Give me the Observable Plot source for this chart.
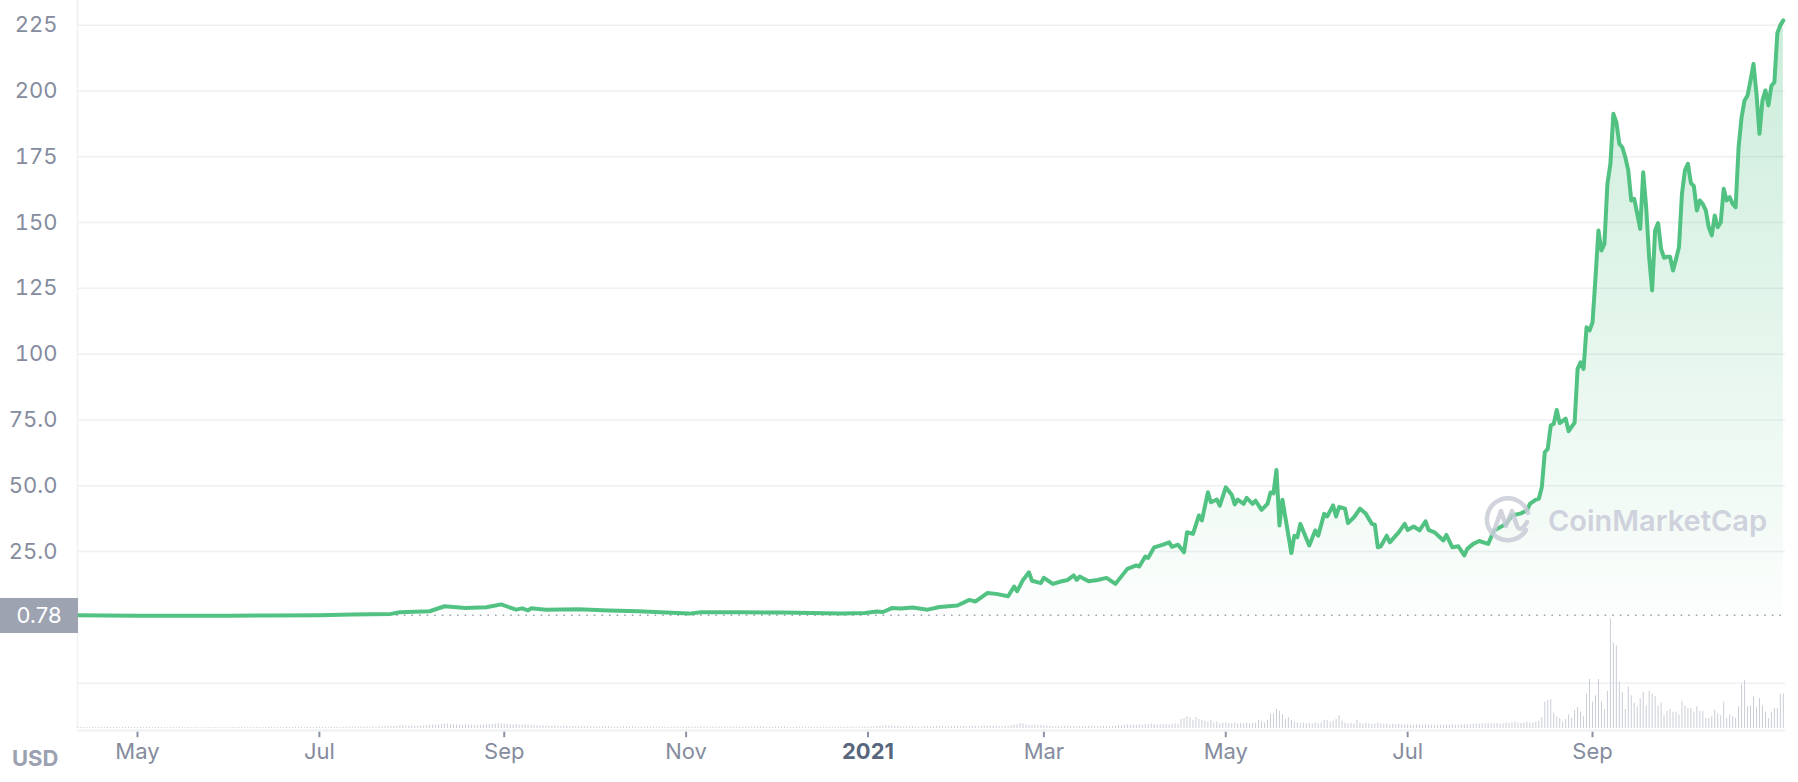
<!DOCTYPE html>
<html><head><meta charset="utf-8">
<script src="https://cdn.jsdelivr.net/npm/d3@7"></script>
<script src="https://cdn.jsdelivr.net/npm/@observablehq/plot@0.6"></script>
<style>
body{margin:0;background:#fff;}
#wrap{position:relative;width:1798px;height:782px;font-family:Inter, sans-serif;overflow:hidden;}
#wrap svg{position:absolute;left:0;top:0;}
.startLabel{position:absolute;left:0;top:598px;width:78px;height:35px;background:#9ea3b1;color:#fff;font-size:22px;line-height:35px;text-align:center;font-family:Inter,sans-serif;}
.usd{position:absolute;left:12px;top:744px;font-weight:700;font-size:22px;line-height:28px;color:#9ba1b0;font-family:Inter,sans-serif;}
</style></head>
<body><div id="wrap"></div>
<script>
// ---- price series (USD) ----
const priceDates = [
"2020-04-11","2020-04-20","2020-05-01","2020-05-15","2020-06-01","2020-06-15","2020-07-01","2020-07-12","2020-07-25","2020-07-28",
"2020-08-07","2020-08-12","2020-08-19","2020-08-26","2020-08-31","2020-09-05","2020-09-07","2020-09-09","2020-09-10","2020-09-15",
"2020-09-26","2020-10-06","2020-10-16","2020-11-02","2020-11-06","2020-11-19","2020-12-03","2020-12-23","2020-12-31",
"2021-01-04","2021-01-06","2021-01-09","2021-01-12","2021-01-16","2021-01-21","2021-01-25","2021-01-31",
"2021-02-04","2021-02-06","2021-02-10","2021-02-13","2021-02-17","2021-02-19","2021-02-20","2021-02-22","2021-02-24","2021-02-25","2021-02-28",
"2021-03-01","2021-03-04","2021-03-07","2021-03-09","2021-03-11","2021-03-12","2021-03-13","2021-03-16","2021-03-19","2021-03-22","2021-03-25","2021-03-29",
"2021-04-01","2021-04-02","2021-04-04","2021-04-05","2021-04-07","2021-04-10","2021-04-12","2021-04-13","2021-04-15","2021-04-17","2021-04-18","2021-04-20","2021-04-22","2021-04-23","2021-04-25","2021-04-26","2021-04-28","2021-04-29",
"2021-05-01","2021-05-03","2021-05-04","2021-05-05","2021-05-07","2021-05-08","2021-05-10","2021-05-11","2021-05-13","2021-05-15","2021-05-16","2021-05-17","2021-05-18","2021-05-19","2021-05-20","2021-05-23","2021-05-24","2021-05-25","2021-05-26","2021-05-29","2021-05-31",
"2021-06-01","2021-06-03","2021-06-04","2021-06-06","2021-06-07","2021-06-08","2021-06-10","2021-06-11","2021-06-13","2021-06-15","2021-06-17","2021-06-19","2021-06-20","2021-06-21","2021-06-22","2021-06-24","2021-06-25","2021-06-28","2021-06-30",
"2021-07-01","2021-07-03","2021-07-05","2021-07-07","2021-07-08","2021-07-10","2021-07-13","2021-07-14","2021-07-16","2021-07-18","2021-07-20","2021-07-21","2021-07-23","2021-07-25","2021-07-28","2021-07-30",
"2021-08-01","2021-08-03","2021-08-05","2021-08-08","2021-08-10","2021-08-11","2021-08-13","2021-08-14","2021-08-15","2021-08-16","2021-08-17","2021-08-18","2021-08-19","2021-08-20","2021-08-21","2021-08-23","2021-08-24","2021-08-26","2021-08-27","2021-08-28","2021-08-29","2021-08-30","2021-08-31",
"2021-09-01","2021-09-02","2021-09-03","2021-09-04","2021-09-05","2021-09-06","2021-09-07","2021-09-08","2021-09-09","2021-09-10","2021-09-11","2021-09-12","2021-09-13","2021-09-14","2021-09-15","2021-09-16","2021-09-17","2021-09-18","2021-09-19","2021-09-20","2021-09-21","2021-09-22","2021-09-23","2021-09-24","2021-09-25","2021-09-26","2021-09-27","2021-09-28","2021-09-29","2021-09-30",
"2021-10-01","2021-10-02","2021-10-03","2021-10-04","2021-10-05","2021-10-06","2021-10-07","2021-10-08","2021-10-09","2021-10-10","2021-10-11","2021-10-12","2021-10-13","2021-10-14","2021-10-15","2021-10-16","2021-10-17","2021-10-18","2021-10-19","2021-10-20","2021-10-21","2021-10-22","2021-10-23","2021-10-24","2021-10-25","2021-10-26","2021-10-27","2021-10-28","2021-10-29","2021-10-30","2021-10-31",
"2021-11-01","2021-11-02","2021-11-03","2021-11-04"
];
const priceValues = [
0.78,0.66,0.62,0.60,0.62,0.72,0.80,1.10,1.30,1.90,
2.30,4.20,3.50,3.80,4.90,2.90,3.40,2.60,3.40,2.90,
3.10,2.60,2.30,1.40,1.90,1.90,1.80,1.40,1.60,
2.2,2.0,3.5,3.3,3.7,2.9,3.9,4.5,
6.6,6.0,9.2,8.9,8.0,11.7,9.9,14.2,17.1,13.9,13.0,
15.0,12.7,13.7,14.2,15.9,14.2,15.5,13.7,14.2,15.0,12.7,18.4,
19.7,19.3,23.1,22.6,26.6,27.6,28.5,26.8,27.6,24.7,32.3,31.7,38.7,36.8,47.5,43.7,44.7,42.4,
49.4,46.6,42.9,44.7,43.1,45.4,43.1,44.3,40.8,43.1,47.4,47.1,56.0,34.9,44.7,24.4,31.0,30.4,35.5,27.3,33.0,
31.0,39.3,38.3,42.5,38.3,41.9,41.3,35.8,38.0,41.3,39.3,35.5,35.2,26.6,27.0,31.0,28.5,32.3,35.5,
33.2,34.5,33.0,36.5,33.2,32.3,29.2,31.3,26.6,27.0,23.5,26.0,27.9,29.0,27.9,33.0,
34.2,35.5,38.7,39.5,40.6,43.1,44.7,45.0,49.4,62.7,64.0,72.9,73.5,78.8,73.8,75.5,70.7,74.0,94.4,96.9,94.4,110.2,109.0,
112,129,147,139.4,141.9,164.7,172.3,191.3,188.1,179.9,178.6,174.8,169.8,158.4,159.0,153.3,147.6,169.1,155.8,136.8,124.2,147.0,149.8,140.0,136.6,137.0,137.0,131.8,136.0,140.6,
160.9,169.8,172.3,165.0,163.8,154.6,158.4,157.0,154.6,148.2,145.1,152.7,148.2,150.0,162.8,158.4,159.7,157.1,155.8,178.6,190.0,196.4,198.3,204.0,210.3,198.9,183.7,196.4,200.2,194.5,202.0,
203.3,222.0,225.0,226.8
];
const startPrice = 0.78;

// ---- daily volume (relative units) ----
const volumeStart = "2020-04-11";
const vol2020Apr = [0.10,0.12,0.11,0.10,0.10,0.12,0.11,0.10,0.10,0.11,0.12,0.10,0.10,0.11,0.10,0.10,0.12,0.11,0.10,0.10];
const vol2020May = [0.10,0.11,0.10,0.10,0.12,0.10,0.10,0.11,0.10,0.10,0.10,0.12,0.10,0.11,0.10,0.10,0.10,0.11,0.10,0.10,0.12,0.10,0.10,0.11,0.10,0.10,0.10,0.11,0.10,0.10,0.10];
const vol2020Jun = [0.10,0.11,0.10,0.10,0.12,0.10,0.11,0.10,0.10,0.12,0.11,0.10,0.10,0.11,0.12,0.10,0.10,0.11,0.10,0.12,0.10,0.10,0.11,0.10,0.12,0.10,0.11,0.10,0.10,0.12];
const vol2020Jul = [0.12,0.12,0.13,0.12,0.14,0.12,0.13,0.12,0.14,0.15,0.14,0.16,0.15,0.14,0.15,0.16,0.15,0.14,0.16,0.15,0.17,0.18,0.20,0.22,0.25,0.22,0.26,0.30,0.28,0.26,0.25];
const vol2020Aug = [0.26,0.24,0.25,0.28,0.30,0.32,0.35,0.38,0.36,0.40,0.45,0.50,0.48,0.42,0.40,0.38,0.36,0.35,0.40,0.38,0.36,0.35,0.34,0.36,0.38,0.40,0.42,0.45,0.50,0.55,0.50];
const vol2020Sep = [0.48,0.45,0.42,0.40,0.45,0.38,0.36,0.40,0.38,0.35,0.32,0.30,0.28,0.30,0.28,0.26,0.25,0.26,0.24,0.22,0.24,0.22,0.20,0.22,0.20,0.21,0.20,0.19,0.20,0.19];
const vol2020Oct = [0.18,0.18,0.17,0.18,0.19,0.18,0.17,0.16,0.17,0.16,0.15,0.16,0.15,0.16,0.15,0.14,0.15,0.14,0.15,0.14,0.15,0.14,0.14,0.15,0.14,0.14,0.13,0.14,0.14,0.13,0.14];
const vol2020Nov = [0.14,0.15,0.14,0.15,0.16,0.18,0.16,0.15,0.14,0.15,0.14,0.15,0.14,0.15,0.14,0.14,0.15,0.14,0.15,0.14,0.16,0.15,0.16,0.15,0.17,0.16,0.15,0.14,0.15,0.14];
const vol2020Dec = [0.14,0.15,0.14,0.14,0.13,0.14,0.13,0.14,0.13,0.13,0.14,0.13,0.14,0.13,0.13,0.14,0.13,0.14,0.13,0.14,0.13,0.14,0.15,0.14,0.13,0.14,0.15,0.14,0.15,0.16,0.15];
const vol2021Jan = [0.15,0.18,0.20,0.22,0.20,0.25,0.30,0.28,0.25,0.22,0.25,0.20,0.18,0.20,0.18,0.20,0.18,0.17,0.18,0.20,0.18,0.17,0.18,0.20,0.22,0.20,0.18,0.20,0.22,0.25,0.20];
const vol2021Feb = [0.20,0.22,0.20,0.25,0.22,0.24,0.22,0.25,0.30,0.28,0.25,0.22,0.24,0.22,0.20,0.22,0.24,0.33,0.35,0.40,0.55,0.50,0.38,0.35,0.33,0.35,0.32,0.33];
const vol2021Mar = [0.30,0.28,0.25,0.22,0.20,0.22,0.20,0.22,0.20,0.21,0.22,0.20,0.21,0.20,0.20,0.22,0.20,0.21,0.20,0.22,0.20,0.20,0.21,0.22,0.24,0.35,0.30,0.32,0.40,0.35,0.38];
const vol2021Apr = [0.35,0.40,0.38,0.45,0.40,0.50,0.42,0.38,0.40,0.45,0.40,0.38,0.42,0.50,0.45,1.00,1.10,1.30,1.20,0.90,1.20,1.00,0.90,0.80,0.70,0.90,0.60,0.70,0.50,0.60];
const vol2021May = [0.60,0.55,0.50,0.60,0.50,0.55,0.50,0.60,0.50,0.55,0.60,0.90,0.70,0.60,0.90,1.60,1.60,2.10,1.90,1.50,1.00,1.20,0.90,0.70,0.60,0.55,0.60,0.50,0.55,0.50,0.60];
const vol2021Jun = [0.50,0.60,0.90,0.90,0.70,0.80,1.00,1.40,0.80,0.60,0.50,0.55,0.50,0.90,0.60,0.50,0.55,0.50,0.45,0.50,0.60,0.50,0.45,0.50,0.40,0.45,0.40,0.45,0.40,0.38];
const vol2021Jul = [0.40,0.38,0.35,0.40,0.38,0.35,0.40,0.38,0.36,0.35,0.34,0.36,0.35,0.38,0.36,0.40,0.38,0.36,0.40,0.45,0.42,0.40,0.45,0.50,0.48,0.50,0.52,0.55,0.50,0.52,0.55];
const vol2021Aug = [0.50,0.50,0.60,0.55,0.60,0.70,0.60,0.55,0.60,0.70,0.60,0.60,0.70,0.80,1.20,2.90,3.10,
3.2,1.7,1.3,1.1,0.7,1.0,1.5,1.1,2.0,2.3,1.8,1.3,3.75,5.4];
const vol2021Sep = [2.9,3.6,5.4,2.9,2.1,4.1,12.1,9.4,9.1,5.1,4.0,2.1,4.6,3.6,2.8,2.4,3.3,4.0,2.5,4.1,3.8,3.5,2.5,2.8,1.4,1.9,2.1,1.8,1.8,1.5];
const vol2021Oct = [3.0,2.5,2.2,2.2,1.8,2.4,1.9,1.9,1.1,1.1,1.3,2.0,1.6,1.4,2.9,1.1,1.5,1.3,1.1,2.4,4.8,5.3,2.4,2.5,3.5,2.3,3.3,2.5,1.8,1.1,1.8];
const vol2021Nov = [2.2,2.2,3.8,3.8];

// ---- axis ticks ----
const yTicks = [25,50,75,100,125,150,175,200,225];
const xTickDates = ["2020-05-01","2020-07-01","2020-09-01","2020-11-01","2021-01-01","2021-03-01","2021-05-01","2021-07-01","2021-09-01"];
const xTickLabels = ["May","Jul","Sep","Nov","2021","Mar","May","Jul","Sep"];
const volumeGridTicks = [5];

// ---- build tables ----
const price = priceDates.map((d, i) => ({date: new Date(d), value: priceValues[i]}));
const volValues = [].concat(vol2020Apr, vol2020May, vol2020Jun, vol2020Jul, vol2020Aug, vol2020Sep, vol2020Oct, vol2020Nov, vol2020Dec,
  vol2021Jan, vol2021Feb, vol2021Mar, vol2021Apr, vol2021May, vol2021Jun, vol2021Jul, vol2021Aug, vol2021Sep, vol2021Oct, vol2021Nov);
const v0 = new Date(volumeStart);
const volume = volValues.map((v, i) => ({date: new Date(v0.getTime() + i * 864e5), value: v}));
const xTicks = xTickDates.map((d, i) => ({date: new Date(d), label: xTickLabels[i], bold: /^\d{4}$/.test(xTickLabels[i])}));

const xDomain = [new Date("2020-04-10T21:07:00Z"), new Date("2021-11-04T17:31:00Z")];
const W = 1798, H = 782;
const green = "#52c283";
const gray = "#858c9e";
const grid = "#eef0f4";

const gradientMark = () => {
  const ns = "http://www.w3.org/2000/svg";
  const defs = document.createElementNS(ns, "defs");
  const lg = document.createElementNS(ns, "linearGradient");
  lg.setAttribute("id", "priceFill");
  lg.setAttribute("x1", "0"); lg.setAttribute("y1", "0"); lg.setAttribute("x2", "0"); lg.setAttribute("y2", "1");
  [[0, 0.30], [0.5, 0.16], [1, 0.02]].forEach(([o, a]) => {
    const s = document.createElementNS(ns, "stop");
    s.setAttribute("offset", o);
    s.setAttribute("stop-color", green);
    s.setAttribute("stop-opacity", a);
    lg.appendChild(s);
  });
  defs.appendChild(lg);
  return defs;
};

const pricePlot = Plot.plot({
  width: W, height: H,
  marginLeft: 77, marginRight: 13, marginTop: 0, marginBottom: H - 616.8,
  style: {fontFamily: "Inter, sans-serif", fontSize: "22px", color: gray, background: "transparent"},
  x: {type: "utc", domain: xDomain, axis: null},
  y: {domain: [0, 234.37], axis: null},
  marks: [
    gradientMark,
    Plot.gridY({ticks: yTicks, stroke: grid, strokeOpacity: 1, strokeWidth: 1.5}),
    Plot.ruleX([xDomain[0]], {stroke: grid, strokeWidth: 1.5}),
    Plot.areaY(price, {x: "date", y: "value", fill: "url(#priceFill)"}),
    Plot.ruleY([startPrice], {stroke: "#9ea3b1", strokeWidth: 1.6, strokeDasharray: "1.6 6"}),
    Plot.lineY(price, {x: "date", y: "value", stroke: green, strokeWidth: 4, strokeLinejoin: "round", strokeLinecap: "round"}),
    Plot.axisY({ticks: yTicks, tickSize: 0, tickPadding: 20, fontSize: 22, fill: gray, label: null,
      tickFormat: d => d < 100 ? d.toFixed(1) : String(d)})
  ]
});

const volumePlot = Plot.plot({
  width: W, height: H,
  marginLeft: 77, marginRight: 13, marginTop: 617, marginBottom: 54,
  style: {fontFamily: "Inter, sans-serif", fontSize: "22px", color: gray, background: "transparent"},
  x: {type: "utc", domain: xDomain},
  y: {domain: [0, 12.25], axis: null},
  marks: [
    Plot.gridY({ticks: volumeGridTicks, stroke: grid, strokeOpacity: 1, strokeWidth: 1.5}),
    Plot.ruleX([xDomain[0]], {stroke: grid, strokeWidth: 1.5}),
    Plot.ruleY([0], {stroke: grid, strokeWidth: 2, dy: 2}),
    Plot.ruleX(volume, {x: "date", y: "value", stroke: "#c9cdd6", strokeWidth: 1}),
    Plot.axisX({ticks: xTicks.map(d => d.date), tickSize: 5.5, dy: 3.7, fill: "none", stroke: "#8b92a3", strokeWidth: 2, label: null}),
    Plot.text(xTicks.filter(d => !d.bold), {x: "date", text: "label", frameAnchor: "bottom", dy: 30, fontSize: 22, fill: gray}),
    Plot.text(xTicks.filter(d => d.bold), {x: "date", text: "label", frameAnchor: "bottom", dy: 30, fontSize: 22, fontWeight: 700, fill: "#58667e"})
  ]
});

const wrap = document.getElementById("wrap");
wrap.appendChild(pricePlot);
wrap.appendChild(volumePlot);

// watermark
const wm = document.createElementNS("http://www.w3.org/2000/svg", "svg");
wm.setAttribute("width", W); wm.setAttribute("height", H);
wm.innerHTML = `
<g opacity="0.85" fill="none" stroke="#c9ccd8" stroke-width="4.5" stroke-linecap="round" stroke-linejoin="round">
  <path d="M1526,530 A21,21 0 1 1 1528,513"/>
  <path d="M1494,531 L1501,511 L1506,526 L1512,511 L1517,526 Q1521,533 1527,522"/>
</g>
<text x="1548" y="531" font-family="Inter, sans-serif" font-size="29" font-weight="600" fill="#c9ccd8" opacity="0.85">CoinMarketCap</text>`;
wrap.appendChild(wm);

const lab = document.createElement("div");
lab.className = "startLabel"; lab.textContent = "0.78";
wrap.appendChild(lab);
const usd = document.createElement("div");
usd.className = "usd"; usd.textContent = "USD";
wrap.appendChild(usd);
</script></body></html>
